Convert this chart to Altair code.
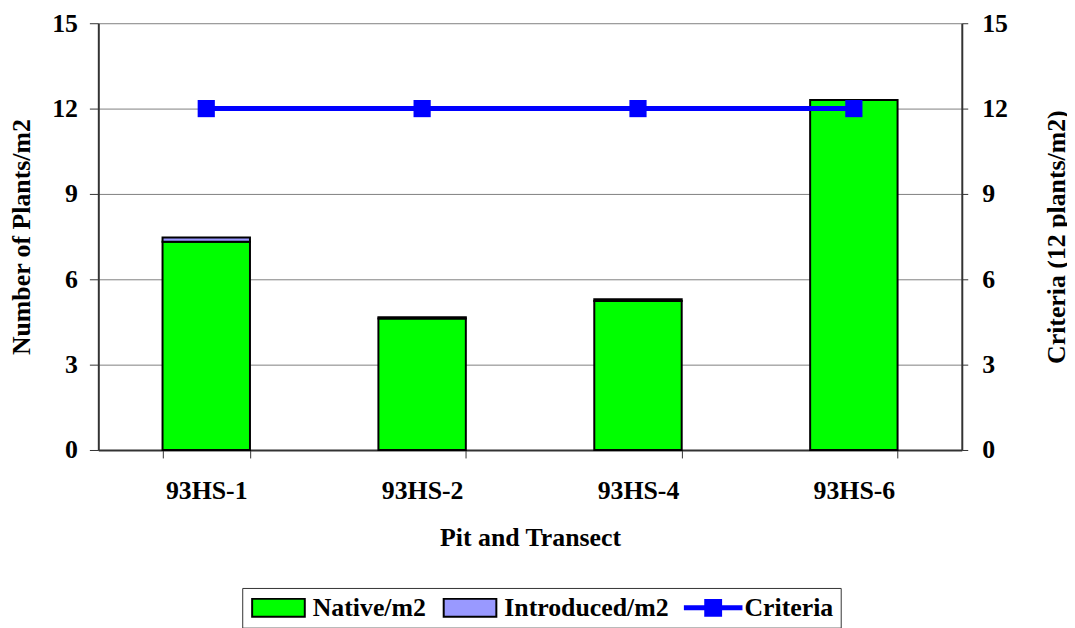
import altair as alt
import pandas as pd

# ---- data ----
pits = ["93HS-1", "93HS-2", "93HS-4", "93HS-6"]
native = [7.32, 4.62, 5.24, 12.3]
introduced = [0.15, 0.05, 0.06, 0.0]
criteria = [12, 12, 12, 12]
series_names = ["Native/m2", "Introduced/m2", "Criteria"]
series_colors = ["#00FF00", "#9999FF", "#0000FF"]
y_ticks = [0, 3, 6, 9, 12, 15]

bars_df = pd.DataFrame({
    "pit": pits * 2,
    "series": [series_names[0]] * len(pits) + [series_names[1]] * len(pits),
    "value": native + introduced,
    "ord": [0] * len(pits) + [1] * len(pits),
})
crit_df = pd.DataFrame({"pit": pits, "series": series_names[2], "value": criteria})

FONT = "Liberation Serif"
AXC = "#333333"
CRIT_COLOR = series_colors[2]

color_scale = alt.Scale(domain=series_names, range=series_colors)


def P(x0, x1, y0, y1):
    return f"M{x0},{y0}H{x1}V{y1}H{x0}Z"


# legend symbol shapes (unit = 13 px)
rect_path = P(-0.77, 3.31, -0.692, 0.692)
crit_path = P(-0.77, 3.77, -0.192, 0.192) + P(0.808, 2.192, -0.692, 0.692)
shape_expr = f"datum.value === 'Criteria' ? '{crit_path}' : '{rect_path}'"
sw_expr = "datum.value === 'Criteria' ? 0 : 2"
legend_encode = {"symbols": {"update": {
    "shape": {"signal": shape_expr},
    "strokeWidth": {"signal": sw_expr},
    "stroke": {"value": "black"},
    "opacity": {"value": 1},
}}}

legend = alt.Legend(
    title=None, orient="none", legendX=145, legendY=569, direction="horizontal",
    symbolType=rect_path, symbolSize=676, symbolStrokeColor="black",
    symbolStrokeWidth=2, labelFont=FONT, labelFontSize=26, labelFontWeight="bold",
    labelColor="black", labelOffset=38, columnPadding=12, padding=7,
    strokeColor="#333333", fillColor="white", labelLimit=0,
)

x_enc = alt.X(
    "pit:N", sort=pits,
    scale=alt.Scale(paddingInner=0.595, paddingOuter=0.2975),
    axis=alt.Axis(title="Pit and Transect", labelAngle=0, tickBand="extent",
                  ticks=True, tickSize=8, tickColor=AXC, domainColor=AXC,
                  domainWidth=2, labelPadding=20, titlePadding=21, grid=False),
)

bars = alt.Chart(bars_df).mark_bar(stroke="black", strokeWidth=2).encode(
    x=x_enc,
    y=alt.Y("value:Q", stack="zero",
            scale=alt.Scale(domain=[0, 15], nice=False),
            axis=alt.Axis(values=y_ticks, title="Number of Plants/m2", grid=True,
                          gridColor="#808080", gridWidth=1, domainColor=AXC,
                          domainWidth=2, tickColor=AXC, tickSize=9,
                          labelPadding=12, titlePadding=17)),
    color=alt.Color("series:N", scale=color_scale, legend=legend),
    order=alt.Order("ord:Q"),
)
y_right = alt.Y("value:Q", scale=alt.Scale(domain=[0, 15], nice=False),
                axis=alt.Axis(orient="right", values=y_ticks,
                              title="Criteria (12 plants/m2)", grid=False,
                              titleAngle=270, titleBaseline="top",
                              domainColor=AXC, domainWidth=2, tickColor=AXC,
                              tickSize=6, labelPadding=14, titlePadding=36))
line = alt.Chart(crit_df).mark_line(strokeWidth=5, color=CRIT_COLOR).encode(
    x=x_enc, y=y_right, detail="series:N")
pts = alt.Chart(crit_df).mark_point(shape="square", filled=True, size=300, opacity=1,
                                    color=CRIT_COLOR).encode(x=x_enc, y=y_right)

chart = alt.layer(bars, alt.layer(line, pts)).resolve_scale(
    y="independent"
).properties(
    width=870, height=430,
    autosize=alt.AutoSizeParams(type="none"),
    padding={"left": 91, "top": 13, "right": 106, "bottom": 177},
).configure_view(stroke=None).configure_axis(
    labelFont=FONT, labelFontSize=26, labelFontWeight="bold", labelColor="black",
    titleFont=FONT, titleFontSize=26, titleFontWeight="bold", titleColor="black",
)


# Vega-Lite passes a legend's "encode" block through to Vega (the published
# schema hides it); add it to the validated spec.
def _inject(obj):
    if isinstance(obj, dict):
        if "legendX" in obj and "symbolType" in obj:
            obj["encode"] = legend_encode
        for v in obj.values():
            _inject(v)
    elif isinstance(obj, list):
        for v in obj:
            _inject(v)


class _LegendEncodeLayer(alt.LayerChart):
    def to_dict(self, *args, **kwargs):
        d = super().to_dict(*args, **kwargs)
        _inject(d)
        return d


object.__setattr__(chart, "__class__", _LegendEncodeLayer)

chart.save("out.html", embed_options={"renderer": "svg", "actions": False})
